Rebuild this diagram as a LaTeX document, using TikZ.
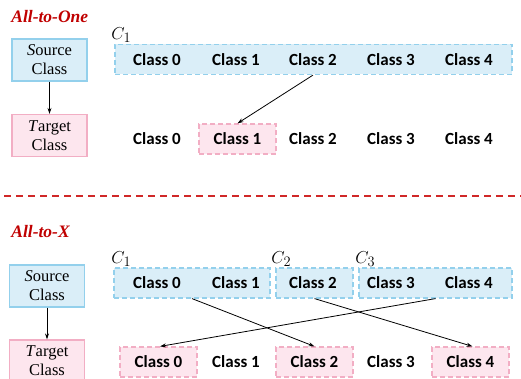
\documentclass[tikz,border=0pt]{standalone}
\usepackage{fontspec}
\usepackage{xcolor}
\usepackage{tikz}
\usetikzlibrary{positioning,arrows.meta}
\newfontfamily\clsfont{Carlito}
\newfontfamily\legfont{Liberation Serif}

\definecolor{srcfill}{HTML}{DAEEF8}
\definecolor{srcline}{HTML}{93D0EC}
\definecolor{tgtfill}{HTML}{FDE6EE}
\definecolor{tgtline}{HTML}{F2AEC4}
\definecolor{headred}{HTML}{C00000}
\definecolor{seplred}{HTML}{D02828}

\begin{document}
\begin{tikzpicture}[
    x=1pt, y=-1pt,
    cls/.style={font=\clsfont\bfseries\fontsize{17}{19}\selectfont, inner sep=0pt},
    srcgrp/.style={draw=srcline, fill=srcfill, dashed, dash pattern=on 5pt off 3pt, line width=1.2pt, minimum height=30pt, inner sep=0pt},
    tgtbox/.style={cls, draw=tgtline, fill=tgtfill, dash pattern=on 5pt off 3pt, line width=1.2pt, minimum width=77pt, minimum height=30pt},
    legsrc/.style={draw=srcline, fill=srcfill, line width=1.2pt, minimum width=75pt, minimum height=42pt, align=center, font=\legfont\fontsize{16.5}{19}\selectfont, inner sep=0pt},
    legtgt/.style={legsrc, draw=tgtline, fill=tgtfill},
    head/.style={font=\legfont\bfseries\itshape\fontsize{17.5}{19}\selectfont, text=headred, anchor=west, inner sep=0pt},
    grplbl/.style={font=\fontsize{19}{20}\selectfont, anchor=west, inner sep=0pt},
    >={Stealth[length=6pt,width=4pt]},
    thick
]
\useasboundingbox (0,0) rectangle (521,379);

% All-to-One
\node[head] (h1) at (11,17) {All-to-One};
\node[legsrc] (s1) at (49.5,60) {\textit{S}ource\\Class};
\node[legtgt] (t1) at (49.5,135.5) {\textit{T}arget\\Class};
\draw[->] (s1) -- (t1);

\node[grplbl] (c1) at (111,35) {$C_1$};
\node[srcgrp, minimum width=397pt] (g1) at (313.5,59.5) {};
\foreach \i/\x in {0/157,1/236,2/313,3/391,4/469}
    \node[cls] (a\i) at (\x,59.5) {Class \i};
\foreach \i/\x in {0/157,2/313,3/391,4/469}
    \node[cls] (b\i) at (\x,139) {Class \i};
\node[tgtbox] (b1) at (237.5,139) {Class 1};
\draw[->] (a2 |- g1.south) -- (b1.north);

% separator
\draw[seplred, line width=1.6pt, dash pattern=on 7pt off 5pt] (4,196) -- (521,196);

% All-to-X
\node[head] (h2) at (11,232) {All-to-X};
\node[legsrc] (s2) at (47,286) {\textit{S}ource\\Class};
\node[legtgt] (t2) at (47,361) {\textit{T}arget\\Class};
\draw[->] (s2) -- (t2);

\node[grplbl] (k1) at (111,259) {$C_1$};
\node[grplbl] (k2) at (271,259) {$C_2$};
\node[grplbl] (k3) at (355,259) {$C_3$};
\node[srcgrp, minimum width=156pt] (q1) at (192,283) {};
\node[srcgrp, minimum width=77pt] (q2) at (314.5,283) {};
\node[srcgrp, minimum width=153pt] (q3) at (435.5,283) {};
\foreach \i/\x in {0/157,1/236,2/313,3/391,4/469}
    \node[cls] (x\i) at (\x,283) {Class \i};
\node[tgtbox] (y0) at (158.5,362) {Class 0};
\node[cls] (y1) at (236,362) {Class 1};
\node[tgtbox] (y2) at (314.5,362) {Class 2};
\node[cls] (y3) at (391,362) {Class 3};
\node[tgtbox] (y4) at (470.5,362) {Class 4};

\draw[->] (q1.south) -- (y2.north);
\draw[->] (q2.south) -- ([xshift=2pt]y4.north);
\draw[->] (q3.south) -- ([xshift=1.5pt]y0.north);

\end{tikzpicture}
\end{document}
